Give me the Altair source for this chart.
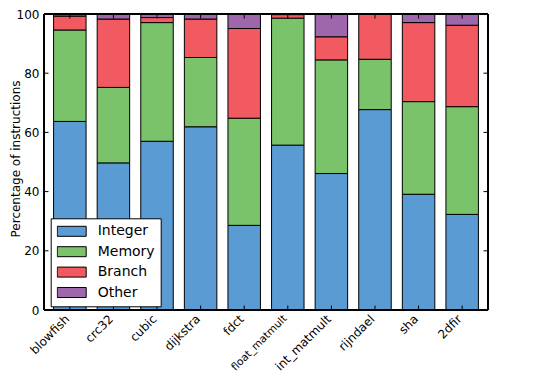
import altair as alt
import pandas as pd

categories = ["blowfish", "crc32", "cubic", "dijkstra", "fdct",
              "float_matmult", "int_matmult", "rijndael", "sha", "2dfir"]
integer = [63.7, 49.7, 57.0, 61.9, 28.6, 55.7, 46.1, 67.7, 39.1, 32.3]
memory = [30.9, 25.5, 40.1, 23.4, 36.2, 42.9, 38.4, 17.0, 31.3, 36.4]
branch = [4.7, 23.1, 1.7, 13.0, 30.3, 1.2, 7.8, 15.2, 26.7, 27.5]
other = [0.7, 1.7, 1.2, 1.7, 4.9, 0.2, 7.7, 0.1, 2.9, 3.8]

series_names = ["Integer", "Memory", "Branch", "Other"]
series_colors = ["#5A9BD4", "#7AC36A", "#F15A60", "#9E67AB"]
y_ticks = [0, 20, 40, 60, 80, 100]

rows = []
for i, c in enumerate(categories):
    for k, (name, vals) in enumerate(zip(series_names, [integer, memory, branch, other])):
        rows.append({"cat": c, "series": name, "value": vals[i], "idx": k})
df = pd.DataFrame(rows)
cat_df = pd.DataFrame({"cat": categories})
tick_df = pd.DataFrame({"value": y_ticks})

W, H = 444, 296
TOP = 6
TL = 4.5

x_scale = alt.Scale(paddingInner=0.255, paddingOuter=0.22)
x_axis = alt.Axis(title=None, labelAngle=-45, labelAlign="right", labelBaseline="top",
                  labelPadding=3, labelOffset=-6, ticks=False, domain=False,
                  labelFontSize={"condition": {"test": "datum.value === 'float_matmult'",
                                               "value": 10.5},
                                 "value": 12})
y_scale = alt.Scale(domain=[0, 100], nice=False)
y_axis = alt.Axis(title="Percentage of instructions", values=y_ticks, grid=False,
                  ticks=False, domain=False, labelPadding=5, labelFontSize=12,
                  titleFontSize=12, titleFontWeight="normal",
                  titleX=-22, titleY=144.5, titleAngle=-90,
                  titleAlign="center", titleBaseline="bottom")

bars = alt.Chart(df).mark_bar(stroke="black", strokeWidth=1, opacity=1).encode(
    x=alt.X("cat:N", sort=categories, scale=x_scale, axis=x_axis),
    y=alt.Y("value:Q", stack="zero", scale=y_scale, axis=y_axis),
    color=alt.Color("series:N", scale=alt.Scale(domain=series_names, range=series_colors),
                    legend=alt.Legend(title=None, orient="none", legendX=6.7,
                                      legendY=218.3 - 8 - TOP,
                                      padding=6, strokeColor="black", fillColor="white",
                                      cornerRadius=0,
                                      symbolType="M-1,-0.345H1V0.345H-1Z", symbolSize=841,
                                      symbolStrokeColor="black", symbolStrokeWidth=1,
                                      symbolOpacity=1, labelFontSize=14, labelOffset=11,
                                      clipHeight=14, rowPadding=6.4, labelColor="black")),
    order=alt.Order("idx:Q", sort="ascending"),
)

left_ticks = alt.Chart(tick_df).mark_rule(color="black", strokeWidth=1).encode(
    y=alt.Y("value:Q", scale=y_scale, axis=y_axis), x=alt.value(0), x2=alt.value(TL))
right_ticks = alt.Chart(tick_df).mark_rule(color="black", strokeWidth=1).encode(
    y=alt.Y("value:Q", scale=y_scale, axis=y_axis), x=alt.value(W - TL), x2=alt.value(W))
top_ticks = alt.Chart(cat_df).mark_rule(color="black", strokeWidth=1).encode(
    x=alt.X("cat:N", sort=categories, scale=x_scale, axis=x_axis), y=alt.value(0), y2=alt.value(TL))
bottom_ticks = alt.Chart(cat_df).mark_rule(color="black", strokeWidth=1).encode(
    x=alt.X("cat:N", sort=categories, scale=x_scale, axis=x_axis), y=alt.value(H - TL), y2=alt.value(H))
frame = alt.Chart(cat_df).mark_rect(fill=None, stroke="black", strokeWidth=1).encode(
    x=alt.value(0), x2=alt.value(W), y=alt.value(0), y2=alt.value(H))

chart = alt.layer(bars, left_ticks, right_ticks, top_ticks, bottom_ticks, frame).properties(
    width=W, height=H,
    autosize=alt.AutoSizeParams(type="none"),
    padding={"left": 36, "top": TOP, "right": 48, "bottom": 366 - TOP - H},
).configure_view(stroke=None).configure(
    font="DejaVu Sans"
).configure_axis(labelColor="black", titleColor="black", labelFont="DejaVu Sans",
                 titleFont="DejaVu Sans").configure_legend(labelFont="DejaVu Sans")

chart.save("out.html", embed_options={"renderer": "svg", "actions": False})
